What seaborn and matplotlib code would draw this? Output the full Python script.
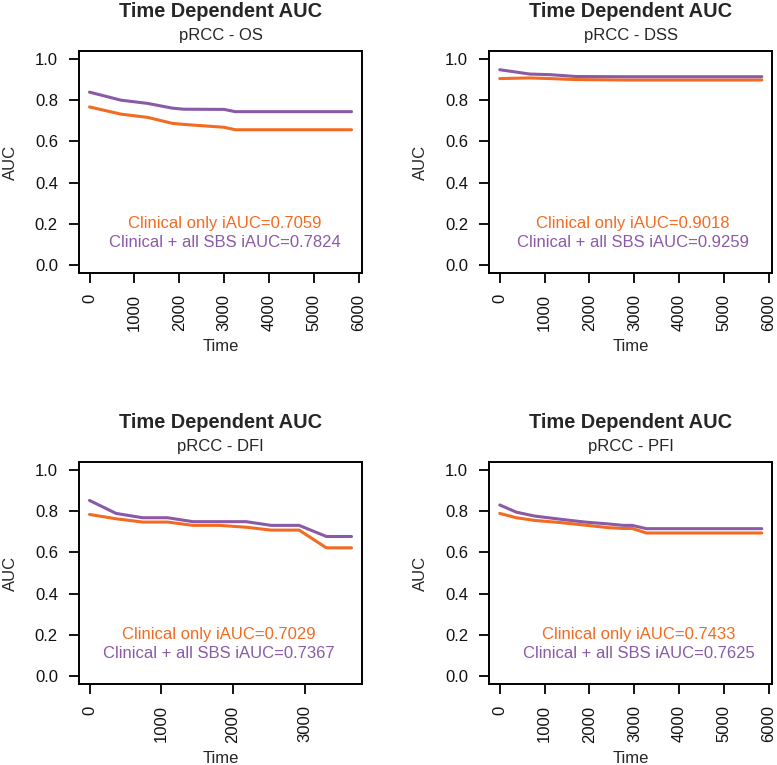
import pandas as pd
import matplotlib
matplotlib.use("Agg")
import matplotlib.pyplot as plt
import seaborn as sns

# time dependent AUC curves
os_time = [0, 700, 1300, 1850, 2100, 3000, 3250, 5840]
os_clin = [0.768, 0.733, 0.717, 0.688, 0.683, 0.669, 0.657, 0.657]
os_sbs = [0.840, 0.801, 0.785, 0.762, 0.757, 0.756, 0.745, 0.745]

dss_time = [0, 670, 1120, 1700, 2800, 5840]
dss_clin = [0.906, 0.909, 0.906, 0.901, 0.899, 0.899]
dss_sbs = [0.949, 0.928, 0.925, 0.916, 0.915, 0.915]

dfi_time = [0, 370, 740, 1090, 1440, 1810, 2180, 2530, 2920, 3300, 3650]
dfi_clin = [0.784, 0.763, 0.747, 0.747, 0.731, 0.731, 0.722, 0.708, 0.708, 0.622, 0.622]
dfi_sbs = [0.852, 0.789, 0.768, 0.768, 0.749, 0.749, 0.749, 0.731, 0.731, 0.677, 0.677]

pfi_time = [0, 370, 780, 1380, 1900, 2420, 2750, 2950, 3270, 5840]
pfi_clin = [0.789, 0.768, 0.755, 0.744, 0.732, 0.720, 0.716, 0.716, 0.694, 0.694]
pfi_sbs = [0.830, 0.795, 0.776, 0.760, 0.747, 0.738, 0.731, 0.731, 0.715, 0.715]

endpoints = ["OS", "DSS", "DFI", "PFI"]
iauc_clin = ["0.7059", "0.9018", "0.7029", "0.7433"]
iauc_sbs = ["0.7824", "0.9259", "0.7367", "0.7625"]
xmax_tick = [6000, 6000, 3000, 6000]

series = {
    "OS": (os_time, os_clin, os_sbs),
    "DSS": (dss_time, dss_clin, dss_sbs),
    "DFI": (dfi_time, dfi_clin, dfi_sbs),
    "PFI": (pfi_time, pfi_clin, pfi_sbs),
}

ORANGE = "#F26B21"
PURPLE = "#8A5AA6"
palette = {"Clinical only": ORANGE, "Clinical + all SBS": PURPLE}

sns.set_style("white")
plt.rcParams["font.family"] = ["Liberation Sans", "DejaVu Sans"]

fig = plt.figure(figsize=(7.77, 7.65), dpi=100)
# axes boxes in figure fractions: [left, bottom, width, height]
boxes = [
    [0.1017, 0.6431, 0.3642, 0.2902],
    [0.6297, 0.6431, 0.3642, 0.2902],
    [0.1017, 0.1055, 0.3642, 0.2910],
    [0.6297, 0.1055, 0.3642, 0.2910],
]
text_x = [0.514, 0.507, 0.494, 0.529]

for i, ep in enumerate(endpoints):
    ax = fig.add_axes(boxes[i])
    t, clin, sbs = series[ep]
    df = pd.DataFrame({
        "Time": t + t,
        "AUC": clin + sbs,
        "model": ["Clinical only"] * len(t) + ["Clinical + all SBS"] * len(t),
    })
    sns.lineplot(data=df, x="Time", y="AUC", hue="model", palette=palette,
                 estimator=None, sort=False, linewidth=2.2, legend=False, ax=ax)

    for side in ["left", "bottom", "top", "right"]:
        ax.spines[side].set_visible(True)
        ax.spines[side].set_linewidth(1.4)
        ax.spines[side].set_color("black")

    tmax = max(t)
    ax.set_xlim(-0.04 * tmax, 1.04 * tmax)
    ax.set_ylim(-0.04, 1.04)
    xt = list(range(0, xmax_tick[i] + 1, 1000))
    ax.set_xticks(xt)
    ax.set_xticklabels([str(v) for v in xt], rotation=90, fontsize=12)
    yt = [0.0, 0.2, 0.4, 0.6, 0.8, 1.0]
    ax.set_yticks(yt)
    ax.set_yticklabels(["%.1f" % v for v in yt], fontsize=12)

    ax.tick_params(axis="both", which="major", direction="out", length=7.2,
                   width=1.3, color="black", labelcolor="#111111",
                   bottom=True, left=True, pad=8)

    ax.set_xlabel("Time", fontsize=12, va="center")
    ax.set_ylabel("AUC", fontsize=12, va="center")
    ax.xaxis.set_label_coords(0.5, -0.332)
    ax.yaxis.set_label_coords(-0.244, 0.5)

    ax.annotate("Time Dependent AUC", xy=(0.5, 1), xycoords="axes fraction",
                xytext=(0, 34), textcoords="offset pixels", ha="center",
                va="baseline", fontsize=14.4, fontweight="bold")
    ax.annotate("pRCC - " + ep, xy=(0.5, 1), xycoords="axes fraction",
                xytext=(0, 11), textcoords="offset pixels", ha="center",
                va="baseline", fontsize=12)

    ax.annotate("Clinical only iAUC=" + iauc_clin[i], xy=(text_x[i], 0.2),
                xycoords=("axes fraction", "data"), ha="center", va="center",
                fontsize=12, color=ORANGE)
    ax.annotate("Clinical + all SBS iAUC=" + iauc_sbs[i], xy=(text_x[i], 0.11),
                xycoords=("axes fraction", "data"), ha="center", va="center",
                fontsize=12, color=PURPLE)

fig.savefig("out.png", dpi=100)
